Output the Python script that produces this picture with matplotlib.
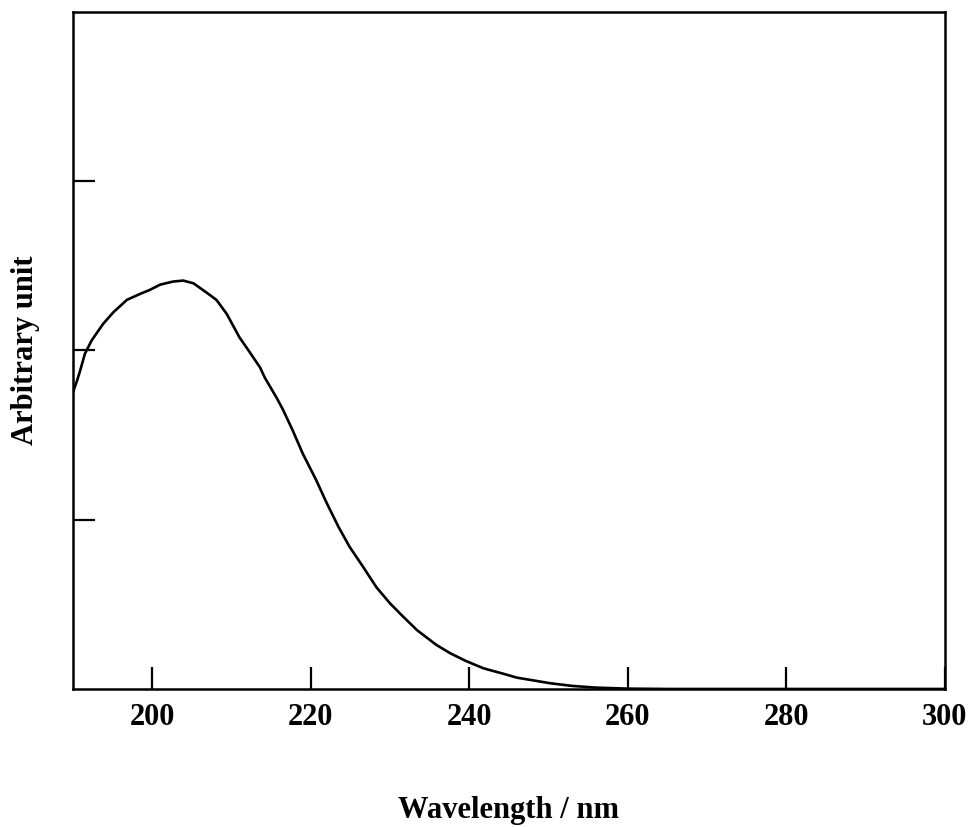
import matplotlib
matplotlib.use("Agg")
import matplotlib.pyplot as plt

# Absorption spectrum (arbitrary units) versus wavelength
wavelength = [190.0, 190.5, 190.9, 191.5, 192.35, 193.8, 195.1, 196.8, 198.45,
              199.7, 201.0, 202.6, 203.9, 205.2, 206.8, 208.1, 209.4, 211.0,
              212.3, 213.6, 214.2, 215.7, 216.5, 217.7, 219.0, 220.7, 222.0,
              223.5, 224.9, 226.6, 228.3, 230.0, 231.6, 233.4, 235.8, 237.6,
              239.6, 241.8, 244.3, 246.0, 250.2, 253.0, 256.0, 260.0, 265.0,
              280.0, 300.0]
intensity = [1.754, 1.82, 1.88, 1.98, 2.059, 2.157, 2.226, 2.299, 2.334,
             2.358, 2.389, 2.407, 2.413, 2.397, 2.344, 2.299, 2.216, 2.078,
             1.99, 1.90, 1.84, 1.72, 1.65, 1.53, 1.39, 1.233, 1.10,
             0.958, 0.84, 0.722, 0.60, 0.506, 0.43, 0.348, 0.262, 0.211,
             0.165, 0.122, 0.090, 0.067, 0.034, 0.018, 0.008, 0.002, 0.0,
             0.0, 0.0]

x_ticks = [200, 220, 240, 260, 280, 300]
y_ticks = [1, 2, 3]

fig = plt.figure(figsize=(9.73, 8.27), dpi=100)
ax = fig.add_axes([0.075, 0.1669, 0.896, 0.8186])

serif = ["Liberation Serif", "DejaVu Serif"]

ax.plot(wavelength, intensity, color="black", linewidth=1.9,
        solid_capstyle="round", solid_joinstyle="round")

ax.set_xlim(190, 300)
ax.set_ylim(0, 4)
ax.set_xticks(x_ticks)
ax.set_yticks(y_ticks)
ax.set_yticklabels([])
ax.tick_params(axis="both", direction="in", length=16, width=1.6, color="black")
ax.tick_params(axis="x", pad=10)
for lbl in ax.get_xticklabels():
    lbl.set_fontfamily(serif)
    lbl.set_fontweight("bold")
    lbl.set_fontsize(22)

for spine in ax.spines.values():
    spine.set_linewidth(1.8)
    spine.set_color("black")

ax.set_xlabel("Wavelength / nm", family=serif, fontweight="bold", fontsize=22, labelpad=46)
ax.set_ylabel("Arbitrary unit", family=serif, fontweight="bold", fontsize=22, labelpad=20)

fig.savefig("out.png", dpi=100, facecolor="white")
